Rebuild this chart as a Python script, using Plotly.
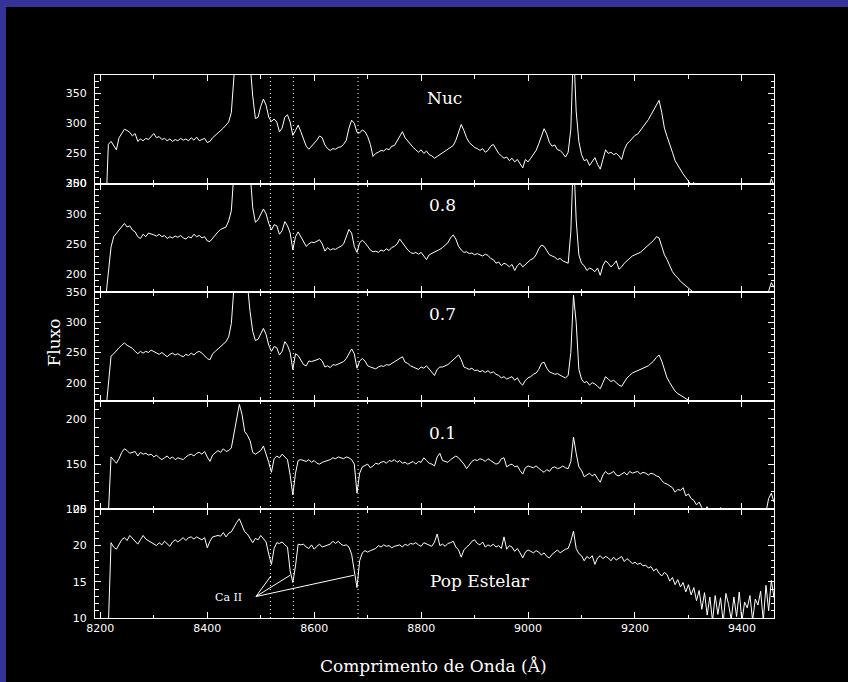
import numpy as np
import plotly.graph_objects as go
from plotly.subplots import make_subplots

# Common wavelength sampling of the extracted spectra (Angstrom)
wavelength = np.arange(8210, 9461, 5)

flux_nuc = [
    150, 265, 270, 262, 256, 276, 282, 290, 288, 285,
    279, 283, 270, 274, 271, 275, 273, 278, 283, 276,
    278, 273, 275, 271, 274, 270, 273, 271, 275, 272,
    274, 271, 276, 272, 277, 271, 273, 275, 268, 270,
    276, 280, 283, 288, 292, 297, 302, 318, 390, 460,
    500, 490, 460, 430, 400, 345, 308, 310, 328, 340,
    330, 310, 303, 307, 302, 286, 292, 310, 314, 302,
    280, 288, 297, 286, 275, 262, 257, 262, 268, 272,
    279, 276, 264, 258, 255, 258, 257, 260, 261, 265,
    272, 292, 305, 300, 285, 284, 289, 286, 278, 265,
    245, 250, 252, 255, 254, 258, 256, 262, 263, 270,
    278, 286, 276, 270, 264, 260, 256, 252, 256, 250,
    254, 248, 246, 242, 245, 248, 250, 253, 256, 260,
    263, 272, 285, 298, 288, 276, 268, 264, 260, 258,
    255, 258, 252, 255, 262, 265, 258, 250, 246, 242,
    244, 238, 242, 236, 240, 232, 226, 240, 236, 242,
    248, 255, 266, 280, 291, 282, 268, 262, 264, 256,
    255, 250, 244, 252, 290, 430, 320, 270, 248, 238,
    240, 230, 236, 243, 232, 224, 240, 256, 250, 252,
    248, 250, 246, 240, 256, 266, 270, 276, 280, 282,
    288, 292, 300, 306, 314, 322, 332, 338, 318, 292,
    278, 266, 252, 238, 230, 222, 216, 210, 204, 198,
    202, 194, 190, 186, 183, 180, 178, 176, 175, 174,
    176, 173, 175, 172, 174, 176, 173, 175, 174, 178,
    176, 180, 177, 182, 179, 184, 180, 186, 192, 208,
    196,
]

flux_08 = [
    160, 205, 245, 262, 268, 272, 280, 284, 278, 280,
    273, 270, 262, 259, 266, 262, 268, 267, 265, 263,
    266, 262, 264, 259, 262, 260, 263, 261, 264, 260,
    258, 262, 260, 266, 262, 264, 260, 262, 255, 254,
    260, 265, 270, 274, 276, 278, 288, 305, 370, 440,
    470, 460, 430, 400, 370, 310, 286, 290, 300, 308,
    300, 284, 273, 282, 280, 266, 272, 287, 280, 268,
    240, 262, 270, 262, 252, 246, 250, 253, 252, 255,
    257, 250, 238, 244, 240, 242, 241, 244, 246, 250,
    262, 274, 268, 246, 236, 252, 256, 252, 246, 240,
    237, 238, 236, 240, 238, 242, 239, 244, 246, 250,
    258, 252, 244, 240, 236, 234, 236, 233, 236, 230,
    224, 232, 234, 236, 238, 241, 244, 248, 252, 260,
    265, 258, 246, 240, 236, 237, 234, 235, 232, 234,
    232, 230, 233, 231, 226, 224, 218, 220, 214, 218,
    216, 212, 216, 206, 214, 218, 212, 216, 220, 224,
    226, 232, 242, 248, 246, 238, 232, 230, 228, 224,
    226, 222, 220, 218, 270, 400, 290, 232, 218, 214,
    206, 210, 208, 204, 210, 198, 214, 222, 218, 212,
    216, 222, 208, 212, 218, 222, 226, 230, 232, 234,
    236, 240, 244, 248, 252, 256, 262, 260, 246, 232,
    224, 214, 204, 198, 194, 188, 184, 180, 176, 172,
    168, 166, 162, 160, 158, 160, 157, 158, 156, 158,
    157, 155, 158, 156, 157, 159, 156, 158, 157, 160,
    158, 161, 159, 162, 160, 163, 162, 165, 172, 186,
    178,
]

flux_07 = [
    150, 200, 244, 248, 254, 258, 262, 266, 262, 260,
    257, 252, 248, 252, 249, 252, 250, 254, 252, 249,
    247, 250, 246, 243, 247, 249, 246, 248, 245, 243,
    247, 245, 249, 246, 250, 252, 249, 245, 240, 238,
    248, 252, 256, 260, 264, 268, 276, 298, 360, 420,
    450, 440, 410, 360, 318, 285, 270, 272, 282, 290,
    280, 262, 252, 260, 258, 246, 252, 268, 262, 250,
    222, 248, 245, 238, 230, 228, 236, 235, 236, 238,
    240, 236, 226, 228, 225, 230, 229, 231, 232, 235,
    240, 248, 256, 248, 224, 236, 240, 236, 228, 226,
    225, 223, 226, 228, 227, 230, 229, 232, 234, 238,
    241, 243, 234, 232, 228, 226, 224, 222, 226, 224,
    228, 222, 218, 212, 222, 226, 226, 228, 230, 234,
    238, 242, 246, 238, 226, 224, 222, 224, 220, 221,
    218, 220, 217, 220, 216, 218, 214, 212, 208, 210,
    206, 208, 210, 204, 208, 200, 196, 204, 208, 210,
    214, 216, 222, 232, 234, 224, 218, 216, 214, 215,
    212, 210, 208, 212, 250, 345, 300, 222, 206, 200,
    202, 196, 200, 198, 194, 190, 200, 210, 206, 202,
    204, 200, 196, 194, 202, 208, 212, 216, 218, 220,
    222, 224, 226, 228, 232, 236, 242, 246, 236, 220,
    208, 200, 192, 186, 182, 179, 176, 173, 170, 167,
    164, 162, 160, 158, 157, 158, 156, 157, 155, 156,
    155, 154, 156, 155, 154, 156, 155, 154, 156, 155,
    157, 156, 158, 157, 159, 158, 160, 159, 162, 166,
    164,
]

flux_01 = [
    100, 95, 158, 155, 151, 156, 163, 167, 165, 162,
    163, 164, 159, 163, 161, 162, 160, 161, 158, 160,
    157, 155, 157, 159, 156, 158, 155, 157, 156, 155,
    158, 160, 161, 159, 162, 163, 161, 164, 158, 153,
    160, 163, 165, 163, 167, 164, 165, 168, 185, 203,
    216, 205, 186, 182, 176, 163, 161, 163, 165, 170,
    162, 152, 141, 156, 159, 157, 161, 158, 155, 138,
    116, 140, 154, 155, 154, 153, 155, 152, 154, 151,
    150, 152, 153, 154, 155, 157, 156, 158, 157, 156,
    158, 157, 155, 150, 118, 140, 147, 149, 150, 146,
    148, 151, 150, 152, 153, 151, 154, 153, 155, 152,
    154, 151, 152, 150, 152, 153, 150, 153, 152, 157,
    154, 151, 150, 148, 158, 162, 154, 153, 152, 155,
    157, 159, 157, 154, 150, 145, 149, 153, 155, 154,
    156, 155, 153, 156, 154, 152, 150, 151, 156, 157,
    147, 149, 150, 147, 148, 143, 139, 146, 148, 147,
    146, 148, 145, 143, 141, 144, 142, 146, 147, 145,
    146, 148, 146, 145, 153, 180, 162, 147, 143, 136,
    138, 140, 137, 139, 134, 130, 138, 142, 139, 140,
    142, 138, 137, 139, 141, 138, 142, 140, 141, 142,
    139, 141, 140, 138, 140, 139, 137, 136, 132, 129,
    128, 126, 124, 119, 122, 121, 124, 115, 117, 112,
    110, 105, 108, 102, 99, 103, 98, 101, 96, 99,
    102, 97, 100, 95, 98, 101, 97, 99, 96, 101,
    97, 95, 98, 94, 100, 96, 99, 97, 112, 118,
    108,
]

flux_pop = [
    8.0, 9.0, 20.4, 19.8, 19.5, 20.2, 20.8, 21.1, 20.7, 21.4,
    21.0, 20.6, 20.2, 20.8, 21.4, 20.9, 20.7, 20.5, 20.2, 20.0,
    20.4, 20.1, 20.6, 20.3, 19.9, 20.5, 20.8, 20.5, 20.8, 21.1,
    20.7, 21.1, 21.2, 20.9, 21.2, 21.0, 20.8, 21.1, 19.7, 20.6,
    21.2, 21.3, 21.4, 21.3, 21.8, 21.2, 21.7, 21.9, 22.6, 23.2,
    23.7, 22.9, 21.9, 21.6, 21.0, 20.4, 21.0, 20.8, 21.4, 20.9,
    20.5, 18.8, 17.4, 19.6, 20.4, 20.3, 20.5, 20.1, 19.8, 16.5,
    14.9, 17.2, 20.2, 20.1, 20.2, 19.8, 19.6, 20.1, 19.5, 19.9,
    20.2, 19.8, 19.9, 20.1, 20.2, 20.6, 20.3, 20.6, 20.2, 20.0,
    20.1, 19.8, 18.8, 16.5, 14.2, 17.9, 19.0, 19.3, 19.1, 19.3,
    19.5, 19.6, 20.0, 19.8, 20.1, 19.9, 20.0, 19.7, 19.9, 20.0,
    20.1, 19.8, 20.2, 20.0, 20.3, 20.2, 20.4, 20.1, 19.9, 20.4,
    20.2, 20.1, 19.9, 20.5, 21.6, 20.0, 20.2, 19.9, 20.3, 20.4,
    20.6, 19.8, 19.4, 18.4, 19.4, 19.8, 20.1, 20.6, 20.8, 20.3,
    20.1, 20.5, 19.8, 20.1, 19.9, 20.2, 19.8, 20.0, 19.6, 21.2,
    19.5, 20.0, 19.8, 19.2, 19.6, 19.0, 18.3, 19.1, 19.4, 19.2,
    19.0, 19.3, 19.1, 18.7, 19.0, 18.5, 18.3, 18.8, 19.1, 19.4,
    19.0, 19.3, 19.5, 19.6, 20.6, 22.0, 19.6, 18.9, 18.6, 17.9,
    18.5, 18.2, 18.6, 17.4, 18.3, 18.6, 18.2, 18.5, 18.3, 17.9,
    18.4, 18.0, 18.2, 18.5, 17.8, 18.2, 17.9, 17.5, 17.7, 17.4,
    17.6, 17.2, 17.3, 16.9, 17.1, 16.5, 16.8, 16.2, 15.8, 16.3,
    16.0, 15.1, 15.6, 14.6, 15.3, 14.3, 14.9, 13.6, 14.6, 13.2,
    14.2, 12.4, 13.8, 11.2, 13.5, 10.4, 12.9, 9.6, 13.1, 10.5,
    12.8, 9.4, 13.4, 11.9, 9.8, 12.9, 10.2, 13.6, 9.5, 12.2,
    11.4, 13.1, 9.7, 12.6, 11.8, 13.7, 9.6, 14.5, 11.0, 15.2,
    12.8,
]

panel_labels = ["Nuc", "0.8", "0.7", "0.1", "Pop Estelar"]
panel_flux = [flux_nuc, flux_08, flux_07, flux_01, flux_pop]
panel_ranges = [[200, 380], [170, 350], [170, 350], [100, 220], [10, 25]]
panel_major = [50, 50, 50, 50, 5]
panel_minor = [10, 10, 10, 10, 1]
# label anchor: wavelength and fractional height inside each panel
label_x = [8843, 8840, 8840, 8840, 8911]
label_y = [0.79, 0.80, 0.80, 0.70, 0.34]

# Ca II triplet (observed frame)
ca_lines = [8518, 8561, 8682]
ca_text_pos = (8439, 12.8)
ca_pointer_origin = (8491, 12.96)
ca_pointer_targets = [(8519, 15.8), (8555, 15.9), (8674, 15.9)]

x_range = [8190, 9460]

for f in panel_flux:
    assert len(f) == len(wavelength)

W, H = 848, 682
L, R, T, B = 95, 74, 75, 64
pw, ph = W - L - R, H - T - B


def paper_x(px):
    return (px - L) / pw


def paper_y(py):
    return 1 - (py - T) / ph


WHITE = "#ffffff"
BLUE = "#333399"
BLACK = "#000000"
tick_font = dict(family="DejaVu Sans", size=11, color=WHITE)
label_font = dict(family="DejaVu Serif", size=17, color=WHITE)

fig = make_subplots(rows=5, cols=1, shared_xaxes=True, vertical_spacing=0)

for i, flux in enumerate(panel_flux):
    row = i + 1
    fig.add_trace(
        go.Scatter(x=wavelength, y=flux, mode="lines",
                   line=dict(color=WHITE, width=1), showlegend=False,
                   hoverinfo="skip"),
        row=row, col=1,
    )
    fig.update_yaxes(
        range=panel_ranges[i], dtick=panel_major[i], tick0=0,
        ticks="inside", ticklen=6, tickwidth=1, tickcolor=WHITE,
        minor=dict(dtick=panel_minor[i], tick0=0, ticks="inside",
                   ticklen=3.5, tickwidth=1, tickcolor=WHITE),
        showline=True, linecolor=WHITE, linewidth=1, mirror="ticks",
        showgrid=False, zeroline=False, tickfont=tick_font,
        ticklabelstandoff=5,
        row=row, col=1,
    )
    fig.update_xaxes(
        range=x_range, dtick=200, tick0=8200,
        ticks="inside", ticklen=6, tickwidth=1, tickcolor=WHITE,
        minor=dict(dtick=100, tick0=8200, ticks="inside",
                   ticklen=3.5, tickwidth=1, tickcolor=WHITE),
        showline=True, linecolor=WHITE, linewidth=1, mirror="ticks",
        showgrid=False, zeroline=False, tickfont=tick_font,
        showticklabels=(row == 5), ticklabelstandoff=0,
        row=row, col=1,
    )
    yref = "y domain" if row == 1 else f"y{row} domain"
    xref = "x" if row == 1 else f"x{row}"
    fig.add_annotation(x=label_x[i], y=label_y[i], xref=xref, yref=yref,
                       text=panel_labels[i], showarrow=False,
                       font=label_font, xanchor="center", yanchor="middle")

# Ca II dotted markers across all panels
for lam in ca_lines:
    fig.add_shape(type="line", x0=lam, x1=lam, y0=0, y1=1,
                  xref="x5", yref="paper",
                  line=dict(color=WHITE, width=1, dash="1px,3px"))

# Ca II label with pointers in the bottom panel
fig.add_annotation(x=ca_text_pos[0], y=ca_text_pos[1], xref="x5", yref="y5",
                   text="Ca II", showarrow=False,
                   font=dict(family="DejaVu Serif", size=11, color=WHITE))
for tx, ty in ca_pointer_targets:
    fig.add_shape(type="line", x0=ca_pointer_origin[0], y0=ca_pointer_origin[1],
                  x1=tx, y1=ty, xref="x5", yref="y5",
                  line=dict(color=WHITE, width=1))

# Axis titles
fig.add_annotation(x=paper_x(53.5), y=paper_y(343), xref="paper", yref="paper",
                   text="Fluxo", textangle=-90, showarrow=False,
                   font=dict(family="DejaVu Serif", size=17, color=WHITE),
                   xanchor="center", yanchor="middle")
fig.add_annotation(x=paper_x(433), y=paper_y(666), xref="paper", yref="paper",
                   text="Comprimento de Onda (Å)", showarrow=False,
                   font=dict(family="DejaVu Serif", size=17, color=WHITE),
                   xanchor="center", yanchor="middle")

# Blue frame along the top and left edges of the page
fig.add_shape(type="rect", xref="paper", yref="paper",
              x0=paper_x(0), x1=paper_x(W), y0=paper_y(7), y1=paper_y(0),
              fillcolor=BLUE, line=dict(width=0), layer="above")
fig.add_shape(type="rect", xref="paper", yref="paper",
              x0=paper_x(0), x1=paper_x(6), y0=paper_y(H), y1=paper_y(0),
              fillcolor=BLUE, line=dict(width=0), layer="above")

fig.update_layout(
    width=W, height=H,
    margin=dict(l=L, r=R, t=T, b=B),
    paper_bgcolor=BLACK, plot_bgcolor=BLACK,
    showlegend=False,
)

fig.write_html("out.html")
